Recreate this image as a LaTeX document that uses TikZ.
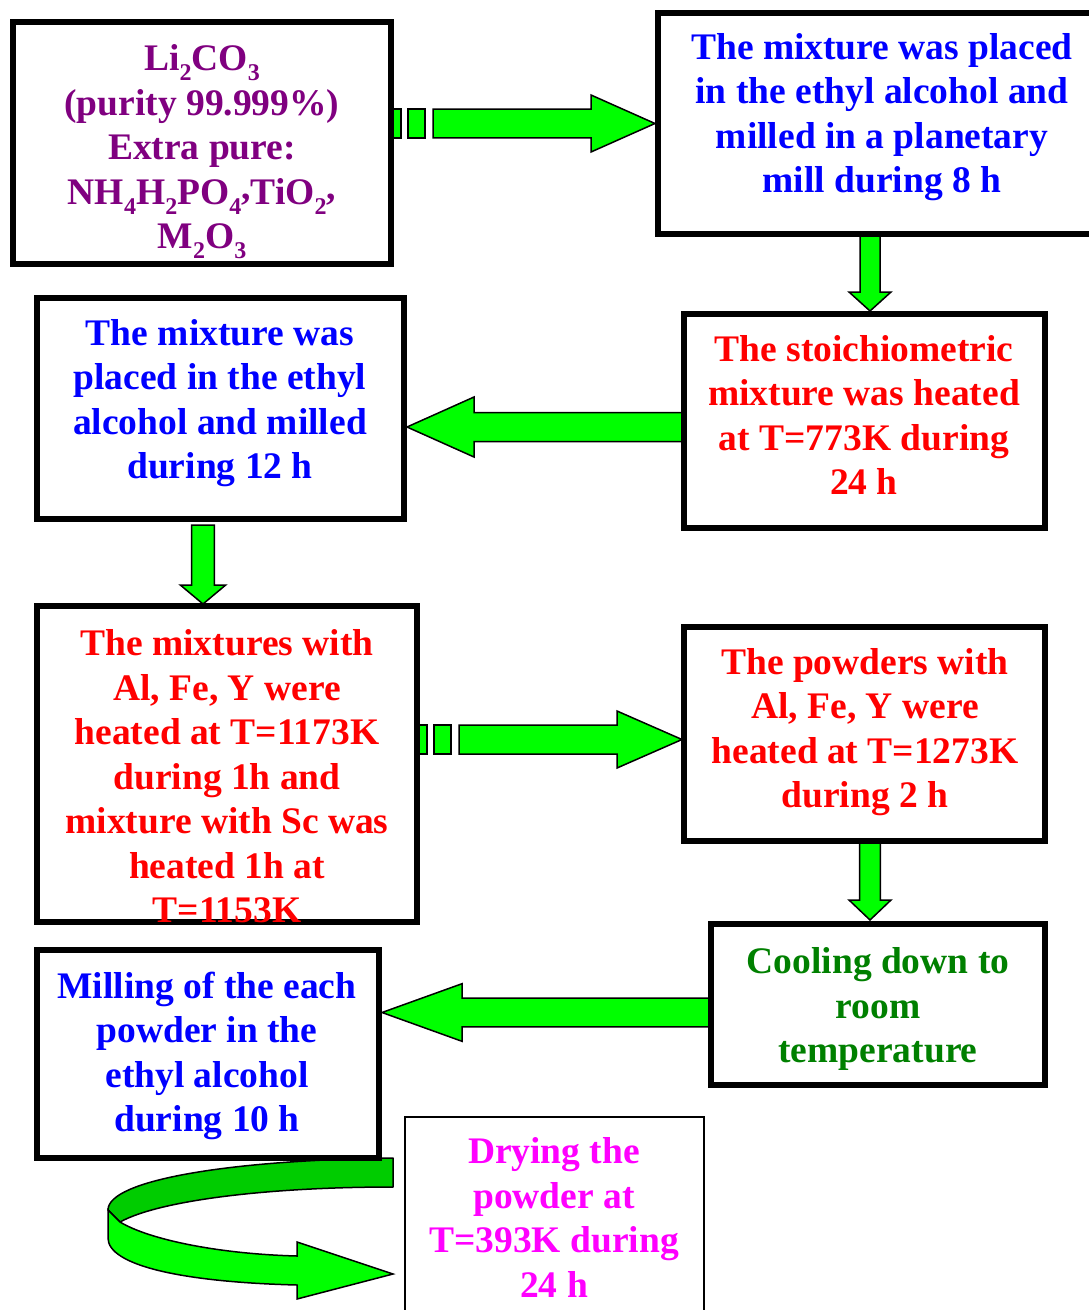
\documentclass[tikz,border=0pt]{standalone}
\usepackage{fontspec}
\setmainfont{Liberation Serif}
\usetikzlibrary{calc}
\definecolor{ppl}{RGB}{128,0,128}
\definecolor{tblue}{RGB}{0,0,255}
\definecolor{tred}{RGB}{255,0,0}
\definecolor{tgreen}{RGB}{0,128,0}
\definecolor{tmag}{RGB}{255,0,255}
\definecolor{agreen}{RGB}{0,255,0}
\definecolor{adark}{RGB}{0,204,0}
\newcommand\sbs[1]{\raisebox{-10pt}{\fontsize{24}{24}\selectfont #1}}
\newcommand\rcomma{\raisebox{5pt}{,}}
% horizontal block arrow: tail point, tip point, shaft half, head half, head length
\newcommand\harrow[5]{%
 \filldraw[garrow] let \p1=#1, \p2=#2, \n1={sign(\x2-\x1)} in
 (\x1,{\y1+#3pt}) -- ({\x2-\n1*#5pt},{\y1+#3pt}) -- ({\x2-\n1*#5pt},{\y1+#4pt})
 -- (\x2,\y1) -- ({\x2-\n1*#5pt},{\y1-#4pt}) -- ({\x2-\n1*#5pt},{\y1-#3pt})
 -- (\x1,{\y1-#3pt}) -- cycle;}
% vertical block arrow
\newcommand\varrow[5]{%
 \filldraw[garrow] let \p1=#1, \p2=#2, \n1={sign(\y2-\y1)} in
 ({\x1+#3pt},\y1) -- ({\x1+#3pt},{\y2-\n1*#5pt}) -- ({\x1+#4pt},{\y2-\n1*#5pt})
 -- (\x1,\y2) -- ({\x1-#4pt},{\y2-\n1*#5pt}) -- ({\x1-#3pt},{\y2-\n1*#5pt})
 -- ({\x1-#3pt},\y1) -- cycle;}
% two small blocks in front of a dashed-tail arrow
\newcommand\dashblocks[2]{%
 \filldraw[garrow] let \p1=#1 in ({\x1+2pt},{\y1-#2pt}) rectangle ({\x1+10pt},{\y1+#2pt})
 ({\x1+17pt},{\y1-#2pt}) rectangle ({\x1+34pt},{\y1+#2pt});}
\begin{document}
\begin{tikzpicture}[x=1pt,y=-1pt,
 box/.style={draw=black, line width=6pt, inner sep=0pt, outer sep=0pt},
 thinbox/.style={draw=black, line width=1.6pt, inner sep=0pt, outer sep=0pt},
 txt/.style={align=center, font=\fontsize{37.5}{44.5}\selectfont\bfseries, inner sep=0pt},
 garrow/.style={fill=agreen, draw=black, line width=1.5pt, line join=miter}]
\useasboundingbox (0,0) rectangle (1088,1310);
\fill[white] (0,0) rectangle (1088,1310);

% box frames (named)
\path
 (202,143)     node[box, minimum width=378pt, minimum height=242pt] (b1) {}
 (879,123.5)   node[box, minimum width=442pt, minimum height=221pt] (b2) {}
 (864.5,421)   node[box, minimum width=361pt, minimum height=214pt] (b3) {}
 (220.5,408.5) node[box, minimum width=367pt, minimum height=221pt] (b4) {}
 (227,764)     node[box, minimum width=380pt, minimum height=316pt] (b5) {}
 (864.5,734)   node[box, minimum width=361pt, minimum height=214pt] (b6) {}
 (878,1004.5)  node[box, minimum width=334pt, minimum height=161pt] (b7) {}
 (208,1054)    node[box, minimum width=342pt, minimum height=208pt] (b8) {}
 (554.5,1218.5) node[thinbox, minimum width=299pt, minimum height=203pt] (b9) {};

% connector anchor points
\coordinate (a1s) at (b1.east |- b2.west);
\coordinate (a1e) at ([xshift=-3pt]b2.west);
\coordinate (a2s) at (b3.west |- 0,427);
\coordinate (a2e) at ([xshift=3pt]b4.east |- 0,427);
\coordinate (a3s) at (b5.east |- 0,739.5);
\coordinate (a3e) at ([xshift=-2pt]b6.west |- 0,739.5);
\coordinate (a4s) at (b7.west |- 0,1012.5);
\coordinate (a4e) at ([xshift=3pt]b8.east |- 0,1012.5);
\coordinate (d1s) at (b2.south -| 870,0);
\coordinate (d1e) at ([yshift=3pt]b3.north -| 870,0);
\coordinate (d2s) at ([yshift=-6pt]b4.south -| 203,0);
\coordinate (d2e) at ([yshift=2pt]b5.north -| 203,0);
\coordinate (d3s) at (b6.south -| 870,0);
\coordinate (d3e) at ([yshift=4pt]b7.north -| 870,0);

% block arrows
\dashblocks{(a1s)}{14.3}
\harrow{([xshift=42pt]a1s)}{(a1e)}{14.3}{28.5}{64}
\harrow{(a2s)}{(a2e)}{14.5}{30}{67}
\dashblocks{(a3s)}{14.5}
\harrow{([xshift=42pt]a3s)}{(a3e)}{14.5}{28.5}{65}
\harrow{(a4s)}{(a4e)}{14.3}{28.8}{80}
\varrow{(d1s)}{(d1e)}{10}{21}{19}
\varrow{(d2s)}{(d2e)}{11.3}{22.7}{19}
\varrow{(d3s)}{(d3e)}{10.3}{21}{20}

% curved ribbon arrow from milling box to drying box
\filldraw[fill=adark, draw=black, line width=1.5pt, line join=round]
 (393,1158) .. controls (230,1160) and (108,1180) .. (108,1210)
 -- (120,1222) .. controls (160,1200) and (270,1187) .. (393,1187) -- cycle;
\filldraw[garrow]
 (108,1210) -- (120,1222) .. controls (150,1240) and (220,1254) .. (297,1256)
 -- (297,1242) -- (393,1274) -- (297,1299) -- (297,1285)
 .. controls (180,1282) and (108,1265) .. (108,1238) -- cycle;

% redraw frames on top of arrows
\draw[line width=6pt] (b1.north west) rectangle (b1.south east);
\draw[line width=6pt] (b2.north west) rectangle (b2.south east);
\draw[line width=6pt] (b3.north west) rectangle (b3.south east);
\draw[line width=6pt] (b4.north west) rectangle (b4.south east);
\draw[line width=6pt] (b5.north west) rectangle (b5.south east);
\draw[line width=6pt] (b6.north west) rectangle (b6.south east);
\draw[line width=6pt] (b7.north west) rectangle (b7.south east);
\draw[line width=6pt] (b8.north west) rectangle (b8.south east);

% texts
\node[txt, text=ppl] (t1) at (202,152)
 {Li\sbs{2}CO\sbs{3}\\(purity 99.999\%)\\Extra pure:\\NH\sbs{4}H\sbs{2}PO\sbs{4}\rcomma TiO\sbs{2}\rcomma\\M\sbs{2}O\sbs{3}};
\node[txt, text=tblue] (t2) at (882,117)
 {The mixture was placed\\in the ethyl alcohol and\\milled in a planetary\\mill during 8 h};
\node[txt, text=tred] (t3) at (864,415)
 {The stoichiometric\\mixture was heated\\at T=773K during\\24 h};
\node[txt, text=tblue] (t4) at (220,403)
 {The mixture was\\placed in the ethyl\\alcohol and milled\\during 12 h};
\node[txt, text=tred] (t5) at (227,776.5)
 {The mixtures with\\Al, Fe, Y were\\heated at T=1173K\\during 1h and\\mixture with Sc was\\heated 1h at\\T=1153K};
\node[txt, text=tred] (t6) at (865,732)
 {The powders with\\Al, Fe, Y were\\heated at T=1273K\\during 2 h};
\node[txt, text=tgreen] (t7) at (878,1009)
 {Cooling down to\\room\\temperature};
\node[txt, text=tblue] (t8) at (207,1056)
 {Milling of the each\\powder in the\\ethyl alcohol\\during 10 h};
\node[txt, text=tmag] (t9) at (554,1217.5)
 {Drying the\\powder at\\T=393K during\\24 h};
\end{tikzpicture}
\end{document}
